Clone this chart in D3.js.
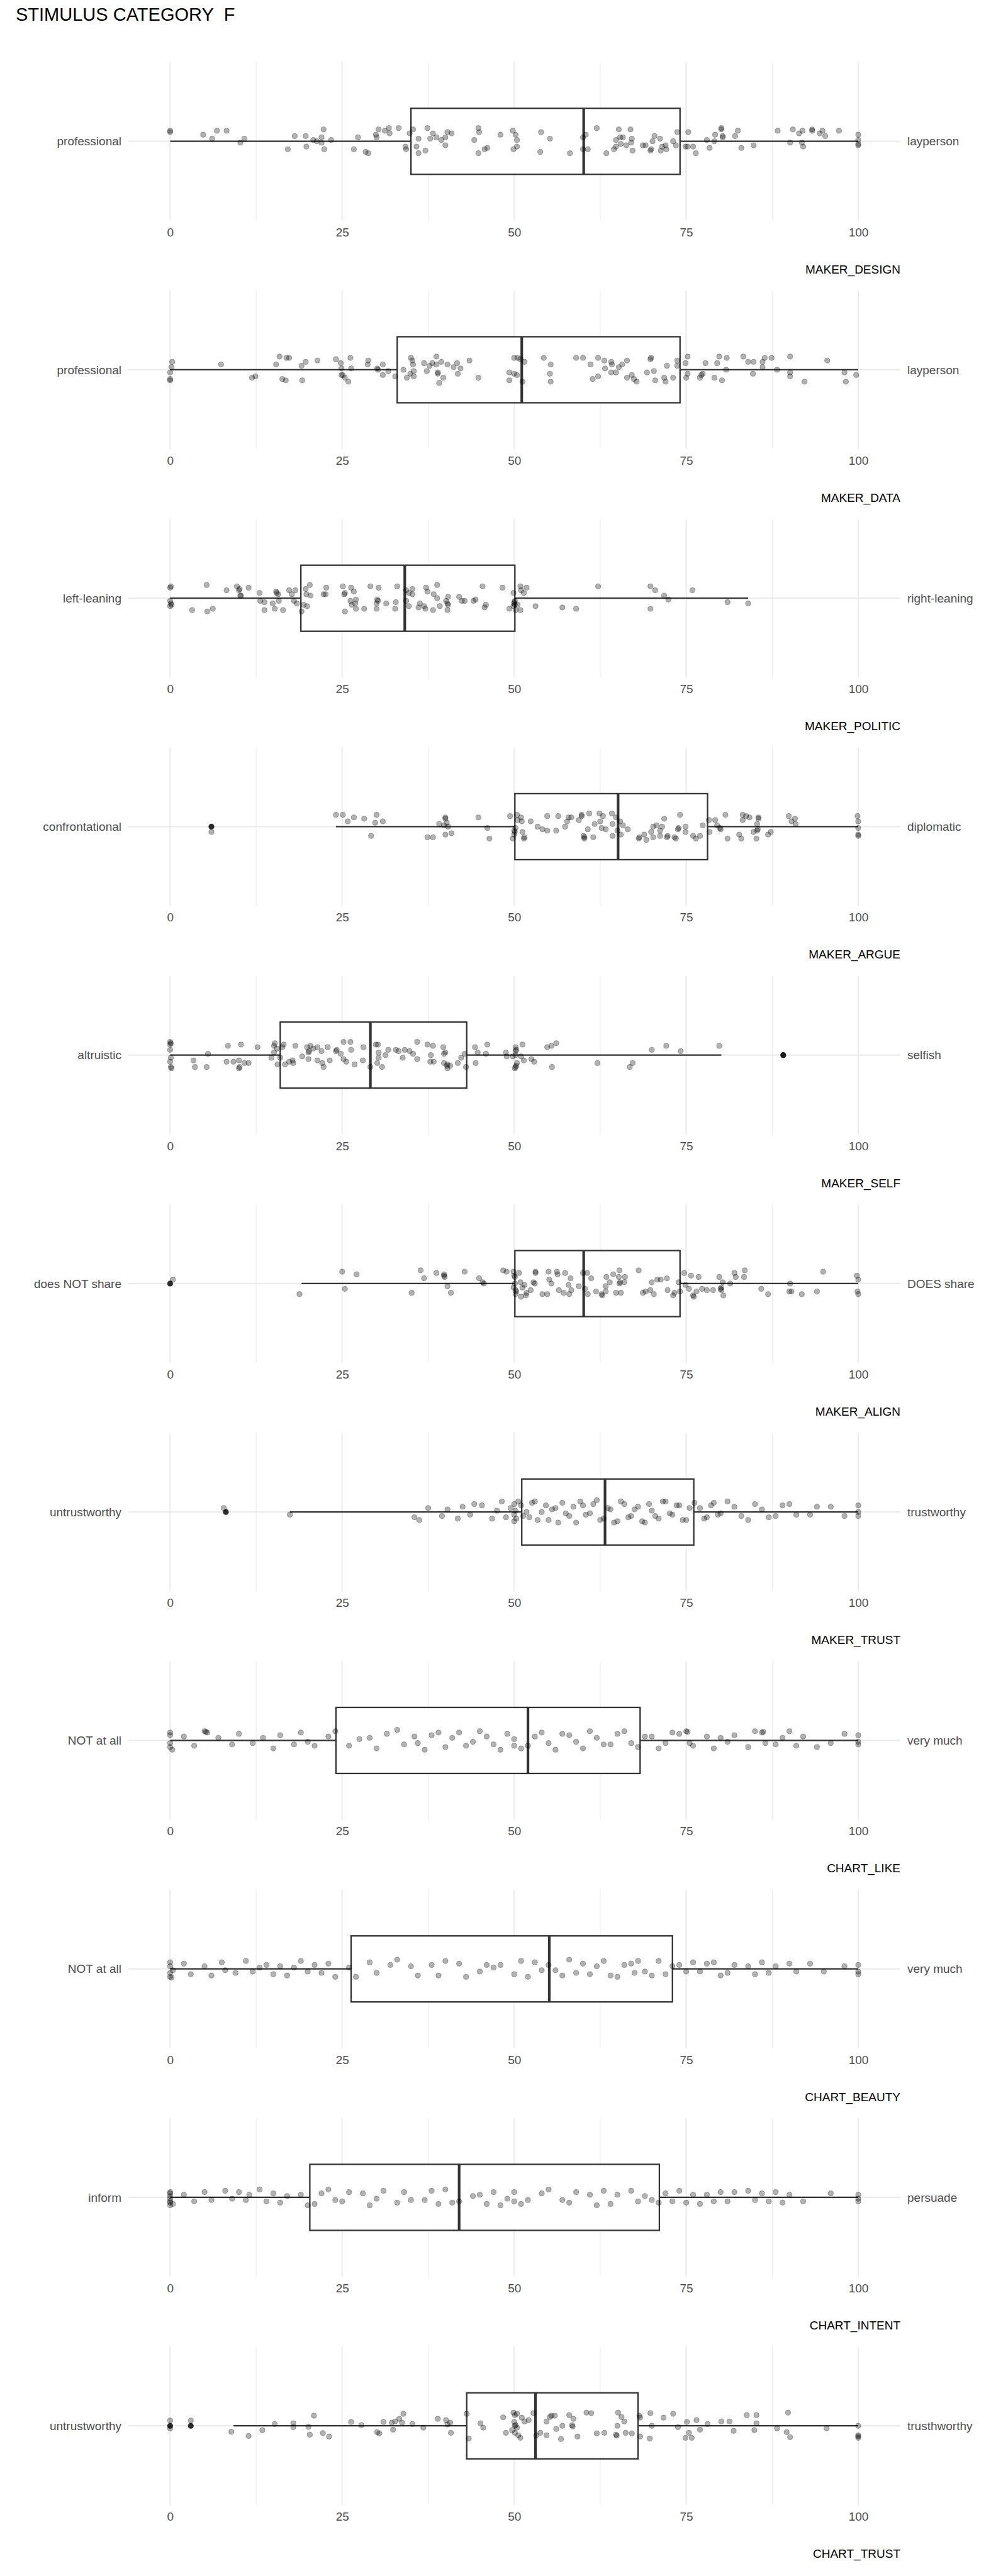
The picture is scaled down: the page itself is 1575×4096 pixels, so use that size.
<!DOCTYPE html>
<html><head><meta charset="utf-8">
<script src="https://cdn.jsdelivr.net/npm/d3@7"></script>
<style>body{margin:0;background:#fff}svg{display:block}</style>
</head><body>
<script>
// ---------------- DATA ----------------
const titleText = "STIMULUS CATEGORY\u00a0\u00a0F";
const variables = ["MAKER_DESIGN","MAKER_DATA","MAKER_POLITIC","MAKER_ARGUE","MAKER_SELF","MAKER_ALIGN","MAKER_TRUST","CHART_LIKE","CHART_BEAUTY","CHART_INTENT","CHART_TRUST"];
const leftLabels = ["professional","professional","left-leaning","confrontational","altruistic","does NOT share","untrustworthy","NOT at all","NOT at all","inform","untrustworthy"];
const rightLabels = ["layperson","layperson","right-leaning","diplomatic","selfish","DOES share","trustworthy","very much","very much","persuade","trusthworthy"];
const xTicks = [0,25,50,75,100];
const xMinorTicks = [12.5,37.5,62.5,87.5];

const q1 =        [35.0, 33.0, 19.0, 50.1, 16.0, 50.1, 51.1, 24.1, 26.3, 20.3, 43.1];
const medians =   [60.1, 51.1, 34.1, 65.1, 29.1, 60.1, 63.2, 52.0, 55.1, 42.0, 53.1];
const q3 =        [74.1, 74.1, 50.1, 78.1, 43.1, 74.1, 76.1, 68.3, 73.0, 71.1, 68.0];
const whiskerLo = [0, 0, 0, 24.1, 0, 19.1, 17.4, 0, 0, 0, 9.2];
const whiskerHi = [100, 100, 84.0, 100, 80.1, 100, 100, 100, 100, 100, 100];
const outliers =  [[], [], [], [6.0], [89.1], [0], [8.1], [], [], [], [0, 3.0]];

// jittered responses: [value, vertical jitter in hundredths of a category (down +)]
const pointsMakerDesign = [[0,-8],[0,-7],[4.8,-5],[6.1,-2],[6.8,-8],[8.2,-8],[10.2,1],[10.8,-2],[17.1,6],[18.1,-4],[19.8,4],[19.7,-4],[20.8,-1],[22,1],[22,-3],[22.3,-9],[22.4,6],[23.4,-1],[21.3,0],[26.7,6],[27.3,-3],[28.4,8],[28.8,9],[29.9,-5],[30,-3],[30.3,-9],[31.2,-8],[31.8,-10],[31.9,-6],[33.2,-10],[34.2,4],[34.3,6],[34.8,-6],[35.3,-9],[36.1,-2],[35.8,4],[36.1,9],[37.1,7],[37.4,-10],[37.8,-2],[38.2,-6],[38.7,-3],[39.4,-1],[40,3],[40,-3],[40.3,-7],[40.9,-6],[44.2,-1],[44.8,9],[44.8,-10],[44.9,-7],[45.7,6],[46.1,5],[48,-5],[49.8,-8],[50.2,-5],[50.4,-1],[50.4,4],[49.9,6],[53.9,-7],[55.2,-2],[53.8,8],[58.1,9],[60,-3],[60,6],[60.4,-5],[60.7,6],[62,-10],[63.4,9],[64.5,6],[64.8,4],[64.8,-1],[65.2,-9],[65.4,-3],[65.8,-3],[65.5,2],[66.3,3],[66.9,-9],[67.1,-2],[67,1],[67.2,7],[68.7,3],[69.1,3],[69.8,7],[69.9,6],[70.1,0],[70.4,-4],[71.2,-2],[71.3,7],[71.5,4],[72.1,6],[72,3],[73.1,0],[73.7,-7],[73.5,3],[74.9,4],[75.2,4],[75.3,-7],[76,4],[76.4,9],[78,-1],[78.4,5],[79.1,0],[79.2,-5],[80.1,-10],[80.1,-9],[80.3,-4],[80.3,-3],[82.1,-4],[82.5,-8],[83,5],[84.8,3],[88.3,-8],[90.1,1],[90.5,-9],[91.4,-6],[91.9,-8],[91.8,1],[92,4],[93.3,-9],[93.3,-8],[94.4,-6],[94.8,-8],[95.2,-4],[97.2,-8],[100,-5],[100,-1],[100,2],[100,3]];
const pointsMakerData = [[0.3,-6],[0.2,-2],[0,2],[0,7],[0,8],[7.4,-4],[11.9,6],[12.4,5],[15.4,-4],[15.9,-10],[16.9,-9],[17.3,-9],[16.3,7],[16.8,8],[19.1,-3],[19.7,-6],[19.2,8],[21.4,-7],[24.1,-8],[24.8,-5],[24.9,-1],[26.2,-9],[26.3,-1],[24.9,4],[25.1,4],[25.4,6],[25.9,9],[28.8,-7],[28.7,-4],[30.1,-1],[30.2,0],[30.9,-4],[30.9,4],[31.7,1],[32.7,5],[33.9,0],[34.4,6],[34.9,3],[35,-9],[35.2,-7],[35.3,-4],[35.4,1],[35.4,5],[36.9,-5],[37.3,1],[37.7,-3],[38.1,-5],[38.7,-10],[38.7,-4],[38.9,2],[38.9,3],[39.1,10],[39.4,-6],[39.7,6],[40.3,-4],[41.2,-2],[41.7,-5],[41.8,3],[42.2,-1],[43.5,-7],[44.8,6],[49.3,2],[49.3,8],[50,3],[50,-9],[50.4,4],[50.5,-9],[50.9,-8],[51.2,9],[51.5,-6],[54.3,-9],[55.3,-4],[55.2,3],[55.3,9],[59,-9],[60,-9],[61.1,-4],[61.4,7],[62.2,-9],[62.2,5],[63.1,-7],[63.2,-1],[64.1,-6],[64.2,-4],[64.1,2],[64.8,2],[65.2,-2],[65.7,-4],[66.4,-7],[66.4,6],[67.1,4],[67.4,7],[67.8,9],[69.3,2],[69.8,-8],[69.9,-9],[70.3,1],[70.5,8],[71.8,6],[72,9],[72.2,-3],[73.1,6],[73.7,-7],[73.7,-3],[74.9,-5],[75,6],[75.2,-10],[75.2,3],[77,6],[77.2,4],[77.4,3],[77.8,-5],[79.1,6],[79.5,-5],[79.8,-10],[80.2,8],[80.8,0],[80.9,-9],[83.3,-10],[84,-6],[84.7,3],[84.8,-6],[86.1,-6],[86.1,-2],[86.4,-9],[87.4,-9],[88.2,0],[90.1,-10],[90.1,2],[90.1,5],[92.2,9],[95.5,-7],[98,2],[98.2,9],[99.7,4]];
const pointsMakerPolitic = [[0,-8],[0.1,-9],[0,2],[0.1,4],[0.2,5],[0,6],[3.2,9],[5.3,-10],[5.4,10],[6.2,8],[8.2,-6],[9.7,-9],[10,-6],[10.1,-7],[10.2,-2],[10.3,-2],[11.4,-8],[13,-4],[13.1,2],[13.7,3],[13.7,9],[14.9,4],[15.2,8],[15.4,-5],[15.5,-4],[15.7,-3],[15.8,2],[16.4,9],[17.3,-6],[17.7,-3],[18.2,-6],[18,2],[18.4,4],[19.1,10],[19.4,5],[19.9,6],[19.7,-7],[19.8,-3],[20.3,-10],[20.4,-2],[22.3,-3],[22.6,-3],[22.7,-8],[25.1,-9],[25.3,-3],[25.4,-4],[25.4,10],[26.3,-8],[26.7,-5],[26.2,2],[26.4,5],[26.9,4],[27,1],[27,8],[28.2,8],[29.1,-9],[30.1,1],[30.2,2],[30,4],[30,8],[30.3,-8],[31.4,4],[32.8,3],[32.7,8],[33,-9],[34.3,-6],[34.3,2],[34.7,-4],[34.7,6],[35.2,-7],[35.2,-3],[36.3,4],[36.1,7],[36.9,6],[37.1,8],[37.2,-8],[37.4,-5],[38.2,9],[38.3,-3],[38.8,-10],[38.8,0],[39.2,6],[40.1,2],[40.3,4],[40.4,5],[40.3,9],[40.4,-1],[42,-1],[42.4,2],[42.8,2],[44.1,2],[44.4,1],[45.4,-9],[45.7,7],[45.9,5],[48.3,-8],[49.3,8],[49.9,-4],[50,3],[50,4],[50.1,5],[50.1,2],[50.2,9],[50.5,5],[50.9,-9],[51,-6],[51.4,-4],[51.8,-8],[49.9,6],[50.9,9],[53.1,6],[57,7],[59,8],[62.2,-9],[69.8,-9],[69.8,8],[70.5,-6],[71.8,-2],[72.4,1],[75.9,-6],[81,3],[84,4]];
const pointsMakerArgue = [[6.0,4],[24.1,-9],[25.1,-9],[25.8,-4],[26.7,-7],[28.2,-6],[29.2,7],[29.8,-3],[30,-9],[30.9,-4],[37.4,8],[38.2,8],[39.1,-2],[39.8,-1],[40,-7],[40,-6],[40,6],[40.2,-3],[40.4,0],[40.9,5],[44.8,-7],[46.1,1],[46.4,9],[49.4,-8],[49.8,9],[50,3],[50.1,4],[50,6],[50.2,1],[50.4,-9],[50.5,-5],[51,-7],[51.1,-4],[51.2,4],[51.4,9],[51.5,8],[52.4,-4],[53.4,0],[54.1,2],[54.8,3],[54.8,-8],[56.1,3],[56.4,-8],[57.4,0],[57.7,-4],[57.9,-7],[58.3,-7],[59.4,-5],[59.8,-9],[59.8,-8],[60.1,7],[60.2,8],[60.2,9],[60.7,2],[60.9,-10],[61.5,8],[61.7,-2],[62.4,-10],[62.5,-4],[62.7,1],[62.9,-8],[63.3,2],[64.2,-10],[64.3,-2],[64.3,7],[64.8,-7],[65,3],[65.5,6],[65.4,-4],[65.8,-1],[66.5,2],[68.1,9],[68.2,8],[68.9,6],[69.2,10],[69.9,4],[70.2,8],[70.2,0],[70.7,-1],[71.2,3],[71.2,7],[71.5,0],[71.8,-6],[72.2,8],[72.3,7],[73.3,8],[73.5,9],[73.8,2],[73.9,1],[74.1,-9],[74.9,0],[74.9,4],[76,7],[76.4,9],[77,7],[77.4,-1],[78.3,-5],[78.4,4],[79.2,-5],[79.5,-1],[79.9,1],[80,2],[80.7,-9],[81,9],[82.7,6],[83,9],[83.2,-5],[83.2,-9],[83.7,-8],[84.2,-7],[84.8,4],[85.2,9],[85.3,3],[85.4,2],[85.3,-2],[85.5,-7],[85.5,-6],[86.9,6],[87.3,4],[89.9,-8],[90.3,-4],[90.8,-6],[90.9,-2],[99.9,-8],[100,-4],[100,1],[100,6],[100,7]];
const pointsMakerSelf = [[0,-10],[0,-8],[0.1,-9],[0,-4],[0.1,2],[0,5],[0.1,9],[0.2,10],[3.4,4],[3.6,9],[5.3,9],[5.5,-1],[8.2,5],[8.4,-7],[9.2,5],[10,4],[10,10],[10.1,9],[10.3,-8],[10.8,6],[11.4,6],[12.7,-6],[14.7,2],[15.1,-7],[15.2,-9],[15.1,-2],[15.5,-5],[15.6,7],[16,2],[16.3,-6],[16.5,-8],[16.7,7],[17.3,5],[17.8,4],[17.9,6],[18.2,-7],[19.2,1],[19.9,-6],[20.1,-2],[20.2,-3],[20.1,3],[20.4,-7],[20.8,-5],[21.4,-6],[21.4,4],[22,-3],[22.1,6],[22.3,9],[22.9,-6],[23.2,4],[24.1,-3],[24.2,-4],[24.8,-1],[25.2,-10],[25.2,3],[25.6,5],[26.2,-10],[26.3,-4],[26.8,7],[28,4],[28.1,-6],[29.1,9],[29.9,-8],[30.2,-8],[30.3,-2],[30.3,2],[30.1,6],[30.8,9],[31.3,0],[31.7,-4],[32.8,-4],[33.2,-3],[33.8,2],[34.1,-4],[34.8,-3],[35.3,-1],[35.9,-10],[35.9,3],[37.4,-8],[37.8,5],[38.2,-7],[38.3,5],[37.9,0],[39.7,-6],[39.8,-1],[40,-2],[39.8,6],[40.2,8],[40.3,7],[40.3,10],[40.7,8],[41.8,6],[42.3,2],[42.8,-1],[43,9],[44.3,-6],[44.4,6],[44.7,-2],[45.9,-1],[46.1,-8],[48.8,-2],[48.9,1],[49.8,1],[50.2,-6],[50.2,-3],[50.3,-4],[50.2,0],[50.4,6],[50.2,9],[50.3,8],[50.1,10],[51,1],[51.2,-8],[51.4,4],[52.5,3],[52.9,5],[54.8,-6],[55.4,-7],[55.5,9],[56.1,-9],[62.1,6],[66.8,9],[67.2,6],[70,-4],[72.1,-7],[74.2,-3],[79.8,-7],[89.1,0]];
const pointsMakerAlign = [[0.4,-3],[18.8,8],[25,-9],[25.4,4],[27.1,-7],[35.1,7],[36.4,-10],[36.9,-4],[38.7,-8],[39.8,-7],[39.8,-6],[39.9,-5],[40.3,2],[40.8,7],[42.8,-9],[44.9,-4],[45.4,-1],[45.6,0],[48.4,-10],[48.9,-9],[49.9,-9],[50,-6],[50.1,-5],[50.1,0],[49.9,3],[50.2,5],[50.3,6],[50.2,8],[50.7,-8],[50.9,-1],[51,10],[51.2,3],[51.5,1],[51.7,9],[51.8,7],[52.4,5],[52.8,-1],[53,0],[53.1,-9],[53.1,-8],[54.1,8],[54.8,8],[55,-9],[55.1,-3],[55.4,0],[56.2,-9],[56.3,-7],[56.5,5],[57.2,7],[57.4,-8],[57.9,1],[58,8],[58.2,-4],[58.3,5],[59.4,2],[60,-8],[60.3,4],[60.6,-8],[60.7,8],[61.2,-4],[61.9,6],[62.7,8],[62.8,9],[63.3,6],[63.4,-5],[63.3,2],[63.9,-1],[64.4,-7],[64.8,7],[65.2,-5],[65.3,0],[65.4,-1],[65.3,-10],[65.5,7],[66,-1],[66.1,-5],[68.1,-10],[68.7,7],[69.1,6],[69.8,5],[70,-1],[70.3,8],[70.8,-3],[71.3,-3],[72.2,-4],[72.3,5],[73.1,9],[73.3,7],[73.9,-1],[74.1,6],[74.7,-8],[74.9,1],[75.4,4],[75.7,-6],[76,9],[76.1,10],[76.5,6],[76.8,-5],[77.3,4],[78,5],[78.9,5],[79.8,-5],[80,4],[80.1,3],[80.1,5],[80.3,-1],[80.4,9],[81.4,0],[82,-8],[82.2,-5],[83.5,-10],[83.4,-5],[85.9,4],[86.9,8],[90.1,0],[90,6],[90.3,6],[91.8,8],[94,6],[94.9,-9],[99.8,-6],[100,-3],[99.9,6],[100,8]];
const pointsMakerTrust = [[7.8,-3],[17.4,2],[35.5,4],[36.2,6],[37.5,-3],[39.5,3],[40.3,-2],[41.8,5],[42.5,-4],[43.6,2],[44.2,-6],[45.3,-5],[46.8,5],[47.5,-1],[48.2,-8],[48.8,4],[49.5,-3],[50,-6],[50,2],[50,7],[50.2,-1],[50.3,5],[50.6,-8],[51,-5],[51.3,3],[51.8,0],[52.2,4],[52.6,-7],[53,-8],[53.4,6],[54,0],[54.6,-5],[55,6],[55.5,-2],[56,-3],[56.4,8],[57,-7],[57.5,1],[58,3],[58.6,-4],[59,8],[59.6,-8],[60,-5],[60.4,2],[61,1],[61.5,-6],[62,-9],[62.5,6],[63,5],[63.6,-3],[64,-2],[64.5,8],[65,7],[65.5,-8],[66,-6],[66.6,4],[67,3],[67.5,-2],[68,-4],[68.6,7],[69,8],[69.6,-6],[70,-1],[70.5,3],[71,5],[71.6,-8],[72,-8],[72.6,1],[73,2],[73.6,-5],[74,-5],[74.5,6],[75,6],[75.5,-3],[76.2,-7],[77,-3],[77.6,5],[78,4],[78.6,-5],[79,-7],[79.6,2],[80,1],[81,-8],[82,-4],[83,3],[84,6],[85,-6],[86,-2],[87,4],[88,3],[89,-5],[90,-6],[91,2],[93,2],[94,-4],[96,-4],[98,3],[100,-5],[100,0],[100,3]];
const pointsChartLike = [[0,-6],[0,-4],[0,2],[0,5],[0.3,7],[2,-3],[3.5,4],[5,-7],[5.4,-6],[5.2,-6.5],[7,-2],[9,3],[10,-5],[12,2],[13.5,-2],[15,6],[16,-4],[18,3],[19,-6],[20,1],[21,4],[23,-3],[24,-7],[26,4],[27.5,-1],[29,-2],[30,6],[31.5,-5],[33,-8],[34,3],[35.5,-3],[36,2],[37,7],[38,-4],[39,-6],[40,5],[41,-2],[42,-6],[43,4],[44,1],[45,-7],[46,-3],[47,3],[48,7],[49,-5],[50,-1],[50,4],[51,6],[52,4],[53,-3],[54,-6],[55,2],[56,7],[57,-5],[58,-4],[59,1],[60,6],[61,-7],[62,-2],[63,3],[64,3],[65,-5],[66,-7],[67,2],[68,5],[69,-3],[70,-3],[71,6],[72,2],[73,-6],[74,-5],[75,-7],[75.2,-6.5],[75.5,2],[76,4],[78,-3],[79,6],[80,-2],[81,1],[82,-4],[84,5],[85,-7],[86,-6],[86.2,-6.5],[86.5,2],[88,3],[89,-2],[90,-7],[91,4],[92,-3],[94,5],[96,2],[98,-5],[100,-4],[100,1],[100,3]];
const pointsChartBeauty = [[0,-5],[0,-2],[0,3],[0,6],[0.2,6.5],[0.4,1],[2,-4],[3,4],[5,-2],[6,5],[7.5,-5],[8,1],[9.5,3],[11,-6],[12,2],[13,-1],[14,-3],[15,4],[16,-2],[17,5],[18,-1],[19,-6],[20,2],[21,-3],[22,3],[23,-4],[24,6],[26,-1],[27,6],[29,-5],[30,3],[32,-3],[33,-7],[35,-2],[36,5],[38,-3],[39,5],[40,-6],[42,-4],[43,6],[45,2],[46,-3],[47,-1],[48,-3],[50,4],[51,-6],[52,6],[53,-5],[54,1],[55,-3],[56,1],[57,5],[58,-7],[59,3],[60,-4],[61,4],[62,-2],[63,-6],[64,5],[65,6],[66,-3],[67,-4],[67.5,3],[68,-6],[69,2],[70,5],[71,-6],[72,4],[73,-2],[74,-3],[75,2],[76,-5],[77,2],[78,-4],[79,-5],[80,5],[81,3],[82,-3],[84,-2],[85,4],[86,-5],[87,3],[88,-2],[90,-4],[91,2],[93,-4],[95,2],[98,-2],[100,-3],[100,2],[100,4]];
const pointsChartIntent = [[0,-4],[0,-3],[0,-1],[0,1],[0,3],[0,4],[0,6],[0.4,5],[2,-2],[3.5,3],[5,-4],[6,2],[8,-5],[9,1],[10,-4],[11,2],[11.5,-2],[13,-6],[14,3],[15,-3],[16,4],[17,-1],[19,-2],[20,6],[21,5],[22,-3],[23,-6],[24,2],[25,3],[26,-4],[28,-3],[29,6],[30,1],[31,-5],[33,4],[34,-4],[35,2],[37,2],[38,-5],[39,5],[40,-6],[41,4],[42,3],[44,-1],[45,-2],[46,5],[47,-4],[48,6],[49,1],[50,-4],[50,3],[51,5],[52,2],[54,-3],[55,-6],[57,2],[58,4],[59,-4],[61,-2],[62,6],[63,-5],[64,5],[65,-2],[67,-5],[68,3],[69,-1],[70,2],[71,4],[72,-3],[73,3],[74,-5],[75,4],[76,-2],[77,5],[78,-2],[79,3],[80,-4],[81,3],[82,-4],[84,-5],[85,2],[86,-3],[87,3],[88,-4],[89,4],[90,-2],[92,3],[96,-3],[100,-2],[100,1],[100,3]];
const pointsChartTrust = [[0,-4],[0,2],[3,-4],[8.9,4.5],[11.4,7.7],[13.4,3.3],[15.2,-1.4],[17.9,-1.9],[17.9,1],[20.1,0.7],[20.3,6.7],[20.9,-7.7],[22.2,5.5],[23.1,8.1],[26.3,-2.9],[27.8,-0.5],[30.1,4.8],[30.4,5.7],[31,-2.9],[32.2,-2.4],[32.4,2.9],[32.7,-3.3],[33.3,-5.3],[33.7,-2.4],[33.9,-9.1],[35.2,-1.4],[36.8,1.4],[38.9,-5.3],[40.1,-4.3],[40.7,-2.4],[40.3,-1],[40.8,5.3],[43.1,-9.1],[43.4,9.6],[45.1,-1.9],[45.5,1.4],[48.4,-6.4],[48.8,5.3],[49.9,-10],[50.1,-8.1],[50.4,-9.1],[50,-2.9],[50.2,-0.5],[50.1,0],[50.4,1.4],[49.7,3.3],[50.1,5.3],[50.6,7.2],[50.9,9.1],[51.1,-6.2],[51.5,-3.3],[52.1,-4.3],[52.8,-9.6],[53.2,7.2],[53.8,5.3],[54.7,-3.3],[55.2,-6.7],[55.4,-7.7],[55.9,-7.7],[56.1,2.4],[54.7,7.2],[56.8,10],[57,0],[58,-8.1],[58.4,-0.5],[58.5,0.5],[58.6,-5.3],[59.2,8.1],[60.5,-10],[61.2,-9.6],[62,5.7],[63.1,5.3],[64.8,6.7],[64.9,7.5],[65,0],[65.1,-10],[65.6,-6.7],[66,-3.3],[66.2,5.3],[67.1,5.7],[68.2,-7.7],[68.3,-6.2],[68.3,8.1],[69.8,-9.6],[70,0],[69.7,9.6],[71.7,-6.2],[73.1,-9.1],[73.8,1],[74.9,9.1],[75.1,-2.9],[75.4,5.3],[75.8,9.1],[76.5,-4.3],[77,2.9],[78.1,-1.4],[80.1,-3.3],[81.3,-3.3],[81.9,3.8],[83.8,-8.1],[84.9,3.3],[85.2,-8.1],[85.2,-1.9],[88.2,1.9],[89.6,4.8],[89.8,-10],[90.1,8.6],[95.4,1.9],[100,0],[100,7.2],[100,8],[100,9.1]];
const pointSets = [pointsMakerDesign,pointsMakerData,pointsMakerPolitic,pointsMakerArgue,pointsMakerSelf,pointsMakerAlign,pointsMakerTrust,pointsChartLike,pointsChartBeauty,pointsChartIntent,pointsChartTrust];

// ---------------- DRAW ----------------
const W = 1575, H = 4096;
const FONT = "'Liberation Sans', Arial, Helvetica, sans-serif";
const svg = d3.select("body").append("svg").attr("width", W).attr("height", H)
  .style("font-family", FONT);
svg.append("rect").attr("width", W).attr("height", H).attr("fill", "#ffffff");

svg.append("text").attr("x", 25).attr("y", 33).attr("fill", "#000")
  .style("font-size", "29px").text(titleText);

const x = d3.scaleLinear().domain([0, 100]).range([270.4, 1364]);
const panelLeft = 204, panelRight = 1431;
const firstCenter = 224.7, pitch = 363.25, halfH = 126;

variables.forEach((name, i) => {
  const cy = firstCenter + pitch * i;
  const y = d3.scaleLinear().domain([0.4, 1.6]).range([cy - halfH, cy + halfH]);
  const g = svg.append("g");

  // grid
  g.selectAll("line.minor").data(xMinorTicks).join("line").attr("class", "minor")
    .attr("x1", d => x(d)).attr("x2", d => x(d)).attr("y1", y(0.4)).attr("y2", y(1.6))
    .attr("stroke", "#EBEBEB").attr("stroke-width", 1.1);
  g.selectAll("line.major").data(xTicks).join("line").attr("class", "major")
    .attr("x1", d => x(d)).attr("x2", d => x(d)).attr("y1", y(0.4)).attr("y2", y(1.6))
    .attr("stroke", "#EBEBEB").attr("stroke-width", 2);
  g.append("line").attr("x1", panelLeft).attr("x2", panelRight).attr("y1", y(1)).attr("y2", y(1))
    .attr("stroke", "#EBEBEB").attr("stroke-width", 2.2);

  // whiskers
  g.append("line").attr("x1", x(whiskerLo[i])).attr("x2", x(q1[i])).attr("y1", y(1)).attr("y2", y(1))
    .attr("stroke", "#333333").attr("stroke-width", 2.3);
  g.append("line").attr("x1", x(q3[i])).attr("x2", x(whiskerHi[i])).attr("y1", y(1)).attr("y2", y(1))
    .attr("stroke", "#333333").attr("stroke-width", 2.3);

  // box
  g.append("rect").attr("x", x(q1[i])).attr("y", y(0.75))
    .attr("width", x(q3[i]) - x(q1[i])).attr("height", y(1.25) - y(0.75))
    .attr("fill", "#ffffff").attr("stroke", "#333333").attr("stroke-width", 2.3);
  g.append("line").attr("x1", x(medians[i])).attr("x2", x(medians[i]))
    .attr("y1", y(0.75)).attr("y2", y(1.25)).attr("stroke", "#333333").attr("stroke-width", 4.2);

  // outliers
  g.selectAll("circle.out").data(outliers[i]).join("circle").attr("class", "out")
    .attr("cx", d => x(d)).attr("cy", y(1)).attr("r", 4.6).attr("fill", "#2b2b2b");

  // jittered points
  g.selectAll("circle.pt").data(pointSets[i]).join("circle").attr("class", "pt")
    .attr("cx", d => x(d[0])).attr("cy", d => y(1 + d[1] / 100)).attr("r", 4.1)
    .attr("fill", "rgba(0,0,0,0.3)").attr("stroke", "rgba(0,0,0,0.32)").attr("stroke-width", 1);

  // x axis
  const ax = g.append("g").attr("transform", `translate(0,${y(1.6)})`)
    .call(d3.axisBottom(x).tickValues(xTicks).tickSize(0).tickPadding(11.5).tickFormat(d3.format("d")));
  ax.select(".domain").remove();
  ax.selectAll("text").attr("fill", "#4D4D4D").style("font-size", "19px").style("font-family", FONT);

  // axis title
  g.append("text").attr("x", panelRight).attr("y", cy + 210).attr("text-anchor", "end")
    .attr("fill", "#000").style("font-size", "19px").text(name);

  // category labels
  g.append("text").attr("x", 193).attr("y", y(1)).attr("dy", "0.35em").attr("text-anchor", "end")
    .attr("fill", "#4D4D4D").style("font-size", "19px").text(leftLabels[i]);
  g.append("text").attr("x", 1442).attr("y", y(1)).attr("dy", "0.35em").attr("text-anchor", "start")
    .attr("fill", "#4D4D4D").style("font-size", "19px").text(rightLabels[i]);
});
</script>
</body></html>
